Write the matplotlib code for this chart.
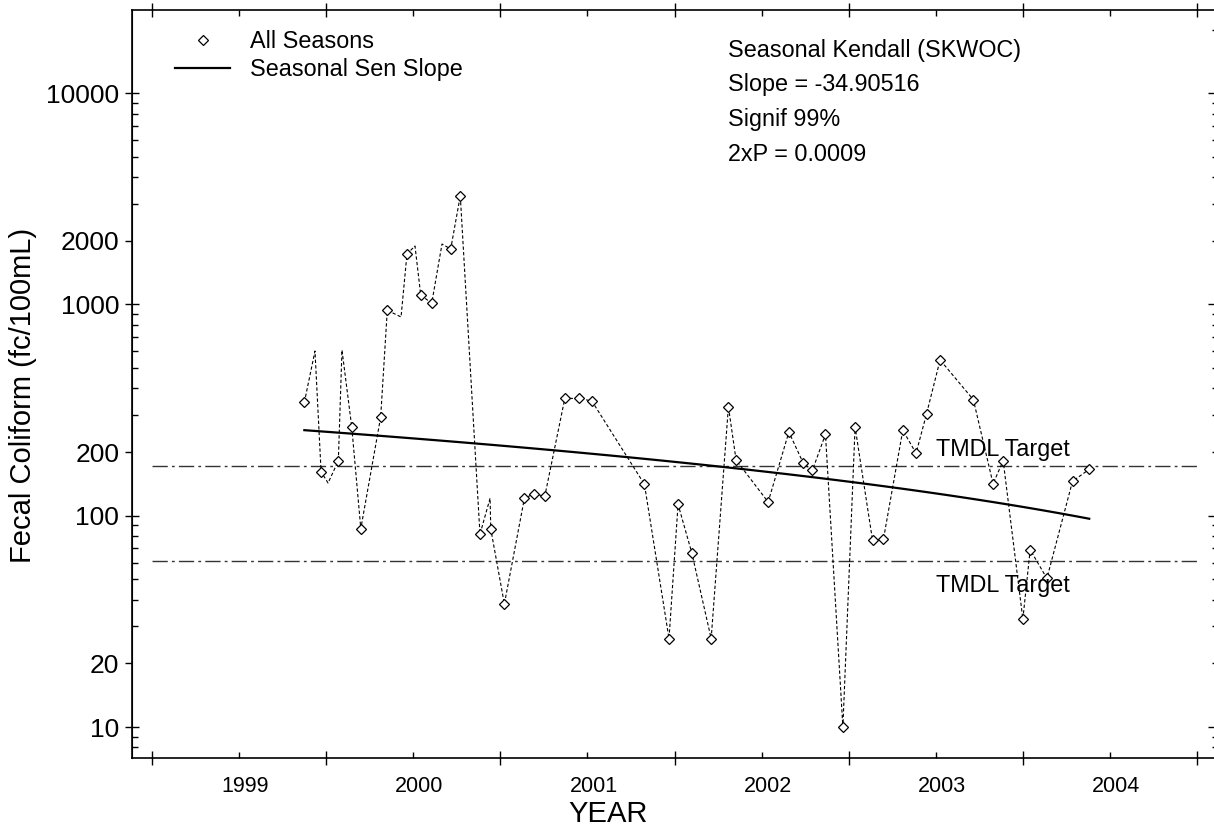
import numpy as np
import matplotlib
matplotlib.use("Agg")
import matplotlib.pyplot as plt
import matplotlib.transforms as mtransforms
from matplotlib.lines import Line2D
from matplotlib.ticker import FixedLocator, NullFormatter

plt.rcParams['font.family'] = ['Liberation Sans', 'DejaVu Sans']

# sample dates (decimal year) and fecal coliform counts
years = [1999.375, 1999.471, 1999.570, 1999.647, 1999.699, 1999.813, 1999.851, 1999.964,
         2000.043, 2000.106, 2000.215, 2000.270, 2000.383, 2000.445, 2000.523, 2000.638,
         2000.693, 2000.755, 2000.870, 2000.954, 2001.025, 2001.327, 2001.468, 2001.520,
         2001.599, 2001.710, 2001.809, 2001.853, 2002.037, 2002.156, 2002.239, 2002.291,
         2002.366, 2002.466, 2002.536, 2002.636, 2002.699, 2002.810, 2002.886, 2002.946,
         2003.024, 2003.215, 2003.328, 2003.386, 2003.499, 2003.541, 2003.637, 2003.784,
         2003.880]
values = [344, 161.5, 182, 263, 86.8, 293, 938, 1732, 1108, 1012, 1829, 3268, 81.7, 86.5,
          38.2, 120.9, 127, 123.6, 359, 359, 349, 140.8, 26.2, 113.2, 66.6, 26.2, 328, 183.4,
          116.1, 249, 177, 164, 242.8, 10.0, 263, 76.7, 77.6, 254, 197.4, 303, 546, 354,
          141.7, 182, 32.4, 69, 50.5, 145.5, 165.8]

# extra vertices of the dashed connecting line (no marker drawn)
extra_years = [1999.436, 1999.511, 1999.591, 1999.930, 2000.010, 2000.165, 2000.441]
extra_values = [602, 142.8, 608, 872, 1890, 1931, 121]

tmdl = [171, 61]
sen_start = 254
sen_slope = -34.90516

year_labels = ['1999', '2000', '2001', '2002', '2003', '2004']

line_t = np.array(years + extra_years)
line_v = np.array(values + extra_values)
order = np.argsort(line_t)
line_t = line_t[order]
line_v = line_v[order]

fig = plt.figure(figsize=(12.14, 8.32), dpi=100)
ax = fig.add_axes([131.7 / 1214, 1 - 757.7 / 832, 1083.5 / 1214, 747.7 / 832])
ax.set_yscale('log')

ax.plot(line_t, line_v, color='black', lw=0.8, dashes=(3, 2), zorder=2)
ax.plot(years, values, ls='none', marker='D', ms=5.5, mfc='white', mec='black', mew=0.9, zorder=3)

st = np.linspace(years[0], years[-1], 100)
ax.plot(st, sen_start + sen_slope * (st - years[0]), color='black', lw=1.6, zorder=4)

for v in tmdl:
    ax.plot([1998.5, 2004.5], [v, v], color='#333333', lw=1.0, dashes=(11, 3, 2, 3), zorder=1)
ax.text(2003.0, 205, 'TMDL Target', fontsize=16.8, va='center', ha='left')
ax.text(2003.0, 46.5, 'TMDL Target', fontsize=16.8, va='center', ha='left')

ax.set_xlim(1998.384, 2004.603)
ax.set_ylim(7.157, 24738)

# x ticks: crossing ticks at half years, labels at year marks
ax.set_xticks(np.arange(1998.5, 2005, 1.0))
ax.set_xticklabels([])
ax.set_xticks(np.arange(1999, 2005), labels=year_labels, minor=True)
ax.tick_params(axis='x', which='major', direction='inout', length=10, width=1, top=True, bottom=True)
ax.tick_params(axis='x', which='minor', direction='in', length=4, width=1, top=True, bottom=True,
               labelsize=15.5, pad=13)
offset = mtransforms.ScaledTranslation(0.06, 0, fig.dpi_scale_trans)
for lab in ax.xaxis.get_minorticklabels():
    lab.set_transform(lab.get_transform() + offset)

# left y ticks
ylab = [10, 20, 100, 200, 1000, 2000, 10000]
ax.yaxis.set_major_locator(FixedLocator(ylab))
ax.set_yticklabels([str(v) for v in ylab])
minors = [m * 10 ** e for e in range(0, 5) for m in range(3, 10)]
ax.yaxis.set_minor_locator(FixedLocator(minors))
ax.yaxis.set_minor_formatter(NullFormatter())
ax.tick_params(axis='y', which='major', direction='out', length=5, width=1, labelsize=19, pad=4,
               right=False)
ax.tick_params(axis='y', which='minor', direction='in', length=4, width=1, right=False)

decades = [10, 100, 1000, 10000]
left2 = ax.secondary_yaxis('left')
left2.set_yticks(decades)
left2.set_yticklabels([])
left2.yaxis.set_minor_locator(FixedLocator([]))
left2.tick_params(axis='y', which='major', direction='in', length=5, width=1)

right = ax.secondary_yaxis('right')
right.set_yticks(decades)
right.set_yticklabels([])
right.yaxis.set_minor_locator(FixedLocator([m * 10 ** e for e in range(0, 5) for m in range(2, 10)]))
right.yaxis.set_minor_formatter(NullFormatter())
right.tick_params(axis='y', which='major', direction='in', length=5, width=1)
right.tick_params(axis='y', which='minor', direction='in', length=2.5, width=1)

for s in ax.spines.values():
    s.set_linewidth(1.2)

ax.set_xlabel('YEAR', fontsize=21)
ax.xaxis.set_label_coords(0.4396, -0.057)
ax.set_ylabel('Fecal Coliform (fc/100mL)', fontsize=21)
ax.yaxis.set_label_coords(-0.0875, 0.485)

handles = [Line2D([], [], ls='none', marker='D', ms=5.5, mfc='white', mec='black', mew=0.9),
           Line2D([], [], color='black', lw=1.6)]
ax.legend(handles, ['All Seasons', 'Seasonal Sen Slope'], loc='upper left',
          bbox_to_anchor=(0.040, 0.973), frameon=False, fontsize=16.8, borderpad=0,
          borderaxespad=0, handlelength=2.36, handletextpad=0.86, labelspacing=0.22)

info = ['Seasonal Kendall (SKWOC)', 'Slope = -34.90516', 'Signif 99%', '2xP = 0.0009']
for i, line in enumerate(info):
    ax.text(0.5505, 0.946 - i * 0.0462, line, transform=ax.transAxes, fontsize=16.8,
            va='center', ha='left')

fig.savefig('out.png', dpi=100)
